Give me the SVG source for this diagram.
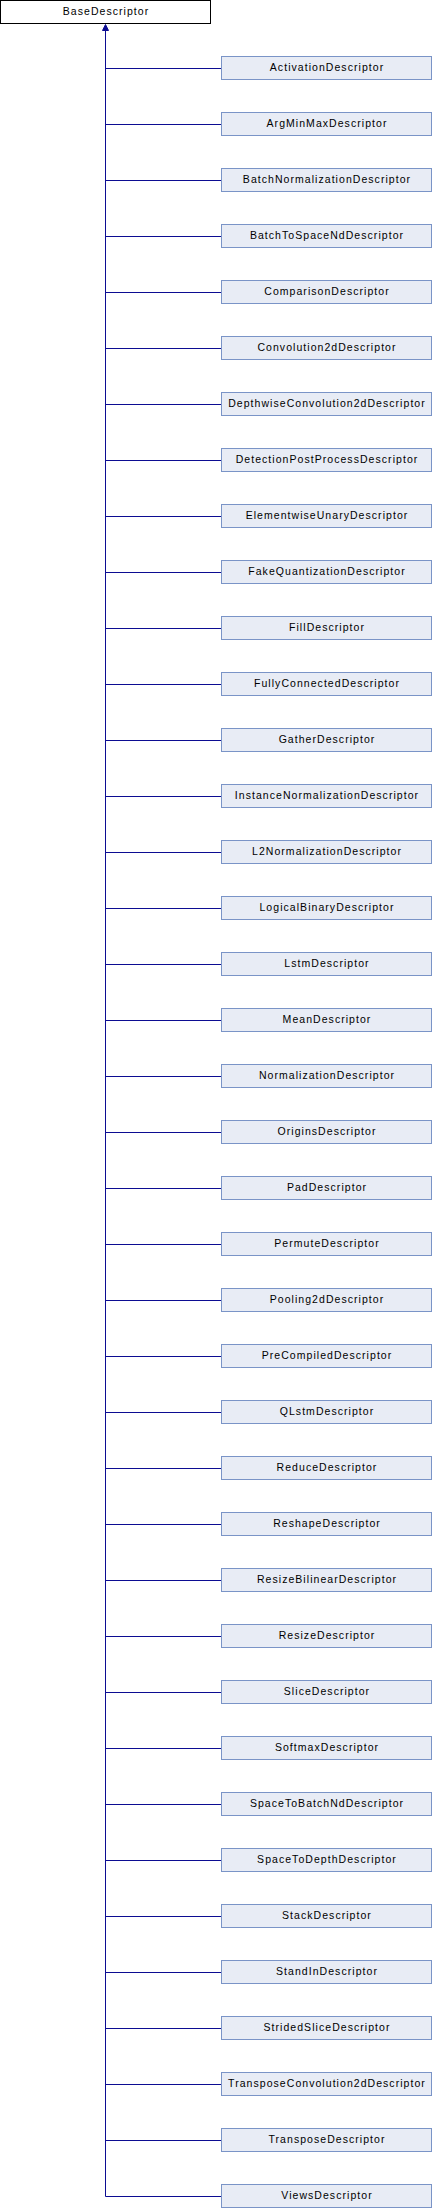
<svg xmlns="http://www.w3.org/2000/svg" width="432" height="2208" viewBox="0 0 432 2208">
<style>
.bg{fill:#ffffff}
.n rect{fill:#e8ecf5;stroke:#7a94c7;stroke-width:1}
.b rect{fill:#ffffff;stroke:#000000;stroke-width:1}
text{font-family:"Liberation Sans",Arial,sans-serif;font-size:10.5px;letter-spacing:1.05px;fill:#000000;text-anchor:middle}
.e line{stroke:#0c0c92;stroke-width:1}
</style>
<rect class="bg" x="0" y="0" width="432" height="2208"/>
<g id="connectors" class="e">
<line x1="105.5" y1="30" x2="105.5" y2="2196.5"/>
<polygon points="105.5,24.5 108.5,30.5 102.5,30.5" fill="#0c0c92" stroke="#0c0c92" stroke-width="1"/>
<line x1="105.5" y1="68.5" x2="221.5" y2="68.5"/>
<line x1="105.5" y1="124.5" x2="221.5" y2="124.5"/>
<line x1="105.5" y1="180.5" x2="221.5" y2="180.5"/>
<line x1="105.5" y1="236.5" x2="221.5" y2="236.5"/>
<line x1="105.5" y1="292.5" x2="221.5" y2="292.5"/>
<line x1="105.5" y1="348.5" x2="221.5" y2="348.5"/>
<line x1="105.5" y1="404.5" x2="221.5" y2="404.5"/>
<line x1="105.5" y1="460.5" x2="221.5" y2="460.5"/>
<line x1="105.5" y1="516.5" x2="221.5" y2="516.5"/>
<line x1="105.5" y1="572.5" x2="221.5" y2="572.5"/>
<line x1="105.5" y1="628.5" x2="221.5" y2="628.5"/>
<line x1="105.5" y1="684.5" x2="221.5" y2="684.5"/>
<line x1="105.5" y1="740.5" x2="221.5" y2="740.5"/>
<line x1="105.5" y1="796.5" x2="221.5" y2="796.5"/>
<line x1="105.5" y1="852.5" x2="221.5" y2="852.5"/>
<line x1="105.5" y1="908.5" x2="221.5" y2="908.5"/>
<line x1="105.5" y1="964.5" x2="221.5" y2="964.5"/>
<line x1="105.5" y1="1020.5" x2="221.5" y2="1020.5"/>
<line x1="105.5" y1="1076.5" x2="221.5" y2="1076.5"/>
<line x1="105.5" y1="1132.5" x2="221.5" y2="1132.5"/>
<line x1="105.5" y1="1188.5" x2="221.5" y2="1188.5"/>
<line x1="105.5" y1="1244.5" x2="221.5" y2="1244.5"/>
<line x1="105.5" y1="1300.5" x2="221.5" y2="1300.5"/>
<line x1="105.5" y1="1356.5" x2="221.5" y2="1356.5"/>
<line x1="105.5" y1="1412.5" x2="221.5" y2="1412.5"/>
<line x1="105.5" y1="1468.5" x2="221.5" y2="1468.5"/>
<line x1="105.5" y1="1524.5" x2="221.5" y2="1524.5"/>
<line x1="105.5" y1="1580.5" x2="221.5" y2="1580.5"/>
<line x1="105.5" y1="1636.5" x2="221.5" y2="1636.5"/>
<line x1="105.5" y1="1692.5" x2="221.5" y2="1692.5"/>
<line x1="105.5" y1="1748.5" x2="221.5" y2="1748.5"/>
<line x1="105.5" y1="1804.5" x2="221.5" y2="1804.5"/>
<line x1="105.5" y1="1860.5" x2="221.5" y2="1860.5"/>
<line x1="105.5" y1="1916.5" x2="221.5" y2="1916.5"/>
<line x1="105.5" y1="1972.5" x2="221.5" y2="1972.5"/>
<line x1="105.5" y1="2028.5" x2="221.5" y2="2028.5"/>
<line x1="105.5" y1="2084.5" x2="221.5" y2="2084.5"/>
<line x1="105.5" y1="2140.5" x2="221.5" y2="2140.5"/>
<line x1="105.5" y1="2196.5" x2="221.5" y2="2196.5"/>
</g>
<g id="BaseDescriptor" class="b"><rect x="0.5" y="0.5" width="210" height="23"/><text x="106" y="15">BaseDescriptor</text></g>
<g id="ActivationDescriptor" class="n"><rect x="221.5" y="56.5" width="210" height="23"/><text x="327" y="71">ActivationDescriptor</text></g>
<g id="ArgMinMaxDescriptor" class="n"><rect x="221.5" y="112.5" width="210" height="23"/><text x="327" y="127">ArgMinMaxDescriptor</text></g>
<g id="BatchNormalizationDescriptor" class="n"><rect x="221.5" y="168.5" width="210" height="23"/><text x="327" y="183">BatchNormalizationDescriptor</text></g>
<g id="BatchToSpaceNdDescriptor" class="n"><rect x="221.5" y="224.5" width="210" height="23"/><text x="327" y="239">BatchToSpaceNdDescriptor</text></g>
<g id="ComparisonDescriptor" class="n"><rect x="221.5" y="280.5" width="210" height="23"/><text x="327" y="295">ComparisonDescriptor</text></g>
<g id="Convolution2dDescriptor" class="n"><rect x="221.5" y="336.5" width="210" height="23"/><text x="327" y="351">Convolution2dDescriptor</text></g>
<g id="DepthwiseConvolution2dDescriptor" class="n"><rect x="221.5" y="392.5" width="210" height="23"/><text x="327" y="407">DepthwiseConvolution2dDescriptor</text></g>
<g id="DetectionPostProcessDescriptor" class="n"><rect x="221.5" y="448.5" width="210" height="23"/><text x="327" y="463">DetectionPostProcessDescriptor</text></g>
<g id="ElementwiseUnaryDescriptor" class="n"><rect x="221.5" y="504.5" width="210" height="23"/><text x="327" y="519">ElementwiseUnaryDescriptor</text></g>
<g id="FakeQuantizationDescriptor" class="n"><rect x="221.5" y="560.5" width="210" height="23"/><text x="327" y="575">FakeQuantizationDescriptor</text></g>
<g id="FillDescriptor" class="n"><rect x="221.5" y="616.5" width="210" height="23"/><text x="327" y="631">FillDescriptor</text></g>
<g id="FullyConnectedDescriptor" class="n"><rect x="221.5" y="672.5" width="210" height="23"/><text x="327" y="687">FullyConnectedDescriptor</text></g>
<g id="GatherDescriptor" class="n"><rect x="221.5" y="728.5" width="210" height="23"/><text x="327" y="743">GatherDescriptor</text></g>
<g id="InstanceNormalizationDescriptor" class="n"><rect x="221.5" y="784.5" width="210" height="23"/><text x="327" y="799">InstanceNormalizationDescriptor</text></g>
<g id="L2NormalizationDescriptor" class="n"><rect x="221.5" y="840.5" width="210" height="23"/><text x="327" y="855">L2NormalizationDescriptor</text></g>
<g id="LogicalBinaryDescriptor" class="n"><rect x="221.5" y="896.5" width="210" height="23"/><text x="327" y="911">LogicalBinaryDescriptor</text></g>
<g id="LstmDescriptor" class="n"><rect x="221.5" y="952.5" width="210" height="23"/><text x="327" y="967">LstmDescriptor</text></g>
<g id="MeanDescriptor" class="n"><rect x="221.5" y="1008.5" width="210" height="23"/><text x="327" y="1023">MeanDescriptor</text></g>
<g id="NormalizationDescriptor" class="n"><rect x="221.5" y="1064.5" width="210" height="23"/><text x="327" y="1079">NormalizationDescriptor</text></g>
<g id="OriginsDescriptor" class="n"><rect x="221.5" y="1120.5" width="210" height="23"/><text x="327" y="1135">OriginsDescriptor</text></g>
<g id="PadDescriptor" class="n"><rect x="221.5" y="1176.5" width="210" height="23"/><text x="327" y="1191">PadDescriptor</text></g>
<g id="PermuteDescriptor" class="n"><rect x="221.5" y="1232.5" width="210" height="23"/><text x="327" y="1247">PermuteDescriptor</text></g>
<g id="Pooling2dDescriptor" class="n"><rect x="221.5" y="1288.5" width="210" height="23"/><text x="327" y="1303">Pooling2dDescriptor</text></g>
<g id="PreCompiledDescriptor" class="n"><rect x="221.5" y="1344.5" width="210" height="23"/><text x="327" y="1359">PreCompiledDescriptor</text></g>
<g id="QLstmDescriptor" class="n"><rect x="221.5" y="1400.5" width="210" height="23"/><text x="327" y="1415">QLstmDescriptor</text></g>
<g id="ReduceDescriptor" class="n"><rect x="221.5" y="1456.5" width="210" height="23"/><text x="327" y="1471">ReduceDescriptor</text></g>
<g id="ReshapeDescriptor" class="n"><rect x="221.5" y="1512.5" width="210" height="23"/><text x="327" y="1527">ReshapeDescriptor</text></g>
<g id="ResizeBilinearDescriptor" class="n"><rect x="221.5" y="1568.5" width="210" height="23"/><text x="327" y="1583">ResizeBilinearDescriptor</text></g>
<g id="ResizeDescriptor" class="n"><rect x="221.5" y="1624.5" width="210" height="23"/><text x="327" y="1639">ResizeDescriptor</text></g>
<g id="SliceDescriptor" class="n"><rect x="221.5" y="1680.5" width="210" height="23"/><text x="327" y="1695">SliceDescriptor</text></g>
<g id="SoftmaxDescriptor" class="n"><rect x="221.5" y="1736.5" width="210" height="23"/><text x="327" y="1751">SoftmaxDescriptor</text></g>
<g id="SpaceToBatchNdDescriptor" class="n"><rect x="221.5" y="1792.5" width="210" height="23"/><text x="327" y="1807">SpaceToBatchNdDescriptor</text></g>
<g id="SpaceToDepthDescriptor" class="n"><rect x="221.5" y="1848.5" width="210" height="23"/><text x="327" y="1863">SpaceToDepthDescriptor</text></g>
<g id="StackDescriptor" class="n"><rect x="221.5" y="1904.5" width="210" height="23"/><text x="327" y="1919">StackDescriptor</text></g>
<g id="StandInDescriptor" class="n"><rect x="221.5" y="1960.5" width="210" height="23"/><text x="327" y="1975">StandInDescriptor</text></g>
<g id="StridedSliceDescriptor" class="n"><rect x="221.5" y="2016.5" width="210" height="23"/><text x="327" y="2031">StridedSliceDescriptor</text></g>
<g id="TransposeConvolution2dDescriptor" class="n"><rect x="221.5" y="2072.5" width="210" height="23"/><text x="327" y="2087">TransposeConvolution2dDescriptor</text></g>
<g id="TransposeDescriptor" class="n"><rect x="221.5" y="2128.5" width="210" height="23"/><text x="327" y="2143">TransposeDescriptor</text></g>
<g id="ViewsDescriptor" class="n"><rect x="221.5" y="2184.5" width="210" height="23"/><text x="327" y="2199">ViewsDescriptor</text></g>
</svg>
